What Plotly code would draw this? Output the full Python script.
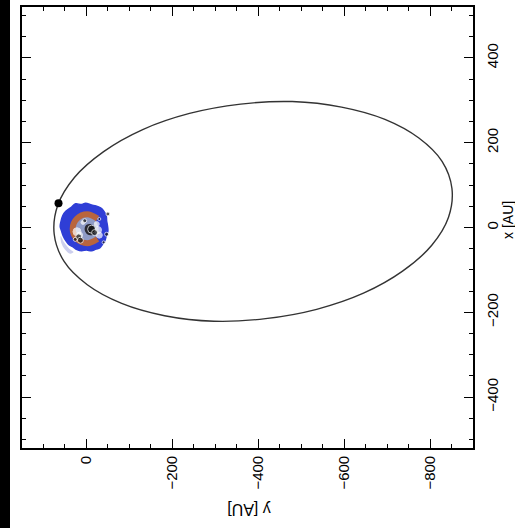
import plotly.graph_objects as go

# Orbit track in the sky plane (AU); horizontal axis is y, vertical axis is x
orbit_y = [-359, -479, -594, -695, -774, -828, -851, -843, -804, -736, -645, -536,
           -417, -297, -182, -82, -2, 52, 75, 67, 28, -40, -131, -240, -359]
orbit_x = [291, 297, 284, 255, 211, 156, 92, 24, -42, -103, -155, -193,
           -215, -221, -208, -179, -135, -80, -16, 52, 118, 179, 231, 269, 291]

# Current position of the companion on its orbit
comp_y = [65]
comp_x = [57]

# Central source: outer blue envelope
env_y = [55, 48, 36, 25, 12, 2, -12, -22, -33, -40, -46, -47, -49, -50, -46, -43,
         -37, -31, -22, -12, 0, 11, 22, 32, 41, 48, 54, 58, 61, 60, 55]
env_x = [28, 38, 47, 56, 54, 57, 53, 51, 46, 39, 28, 16, 4, -8, -20, -31,
         -40, -48, -51, -55, -53, -55, -52, -45, -40, -31, -20, -8, 2, 11, 28]

# Faint halo at the lower left of the envelope
halo_y = [60, 52, 40, 30, 38, 50, 58, 60]
halo_x = [-20, -35, -50, -58, -62, -52, -38, -20]

# Inner pale region
core_y = [26, 18, 0, -18, -27, -28, -20, -2, 18, 27, 26]
core_x = [4, 20, 27, 20, 4, -12, -27, -32, -24, -10, 4]

# Orange ring (open on the far side)
ring_y = [-26, -2, 22, 32, 22, -2, -26]
ring_x = [21, 31, 21, -3, -27, -37, -27]

# Dark centre
dark_core_y = [2, -6, -16, -20, -14, -2, 4, 2]
dark_core_x = [4, 8, 4, -8, -18, -16, -6, 4]

# Bright and dark knots in the inner region
white_y = [22, 16, -27, -30, 8, -24]
white_x = [-10, -18, -6, -18, 12, 8]
white_size = [8, 6, 7, 6, 4, 5]
dark_y = [-12, -19, 18, 14, -50, -47, 4, -40, 26, -30]
dark_x = [-4, -12, -22, -30, 32, -16, 16, -35, -28, 20]
dark_size = [8, 6, 6, 6, 4, 4, 4, 3, 4, 3]

x_ticks = [0, -200, -400, -600, -800]
y_ticks = [-400, -200, 0, 200, 400]


def minus(v):
    return str(v).replace("-", "\u2212")


fig = go.Figure()

fig.add_trace(go.Scatter(x=env_y, y=env_x, mode="lines", fill="toself",
                         fillcolor="#2f3ed6", line=dict(color="#2f3ed6", width=1.5),
                         line_shape="spline", hoverinfo="skip"))
fig.add_trace(go.Scatter(x=halo_y, y=halo_x, mode="lines", fill="toself",
                         fillcolor="rgba(170,175,225,0.6)", line=dict(width=0),
                         line_shape="spline", hoverinfo="skip"))
fig.add_trace(go.Scatter(x=core_y, y=core_x, mode="lines", fill="toself",
                         fillcolor="#8f9bc6", line=dict(width=0),
                         line_shape="spline", hoverinfo="skip"))
fig.add_trace(go.Scatter(x=ring_y, y=ring_x, mode="lines",
                         line=dict(color="#b9653d", width=6), line_shape="spline",
                         hoverinfo="skip"))
fig.add_trace(go.Scatter(x=dark_core_y, y=dark_core_x, mode="lines", fill="toself",
                         fillcolor="#2a2a33", line=dict(width=0),
                         line_shape="spline", hoverinfo="skip"))
fig.add_trace(go.Scatter(x=white_y, y=white_x, mode="markers",
                         marker=dict(color="white", size=white_size), hoverinfo="skip"))
fig.add_trace(go.Scatter(x=dark_y, y=dark_x, mode="markers",
                         marker=dict(color="#111111", size=dark_size), hoverinfo="skip"))

fig.add_trace(go.Scatter(x=orbit_y, y=orbit_x, mode="lines", line_shape="spline",
                         line=dict(color="#333333", width=1.4), hoverinfo="skip"))
fig.add_trace(go.Scatter(x=comp_y, y=comp_x, mode="markers",
                         marker=dict(color="black", size=8), hoverinfo="skip"))

axis_font = dict(family="Liberation Sans, Arial, sans-serif", size=15, color="black")

common = dict(showgrid=False, zeroline=False, showline=True, linecolor="black",
              linewidth=1.6, mirror="allticks", ticks="inside", ticklen=9,
              tickwidth=1.3, tickcolor="black", tickangle=-90, tickfont=axis_font)

fig.update_layout(
    width=515, height=528,
    margin=dict(l=22, r=42, t=5, b=80),
    paper_bgcolor="white", plot_bgcolor="white",
    showlegend=False,
    xaxis=dict(range=[150, -900], tickvals=x_ticks,
               ticktext=[minus(v) for v in x_ticks],
               minor=dict(ticks="inside", ticklen=4.5, tickwidth=1, dtick=50,
                          tick0=0, tickcolor="black"),
               **common),
    yaxis=dict(range=[-520, 520], side="right", tickvals=y_ticks,
               ticktext=[minus(v) for v in y_ticks], ticklabelstandoff=5,
               minor=dict(ticks="inside", ticklen=4.5, tickwidth=1, dtick=50,
                          tick0=0, tickcolor="black"),
               **common),
    annotations=[
        dict(text="y [AU]", xref="paper", yref="paper", x=0.502, y=-0.14,
             xanchor="center", yanchor="middle",
             showarrow=False, textangle=180,
             font=dict(family="Liberation Sans, Arial, sans-serif", size=16,
                       color="black")),
        dict(text="x [AU]", xref="paper", yref="paper", x=1.0775, y=0.517,
             xanchor="center", yanchor="middle",
             showarrow=False, textangle=-90,
             font=dict(family="Liberation Sans, Arial, sans-serif", size=14,
                       color="black")),
    ],
    shapes=[
        dict(type="rect", xref="paper", yref="paper", x0=-0.049, x1=-0.0266,
             y0=-0.19, y1=1.02, fillcolor="black", line=dict(width=0), layer="above"),
    ],
)

fig.write_html("out.html")
